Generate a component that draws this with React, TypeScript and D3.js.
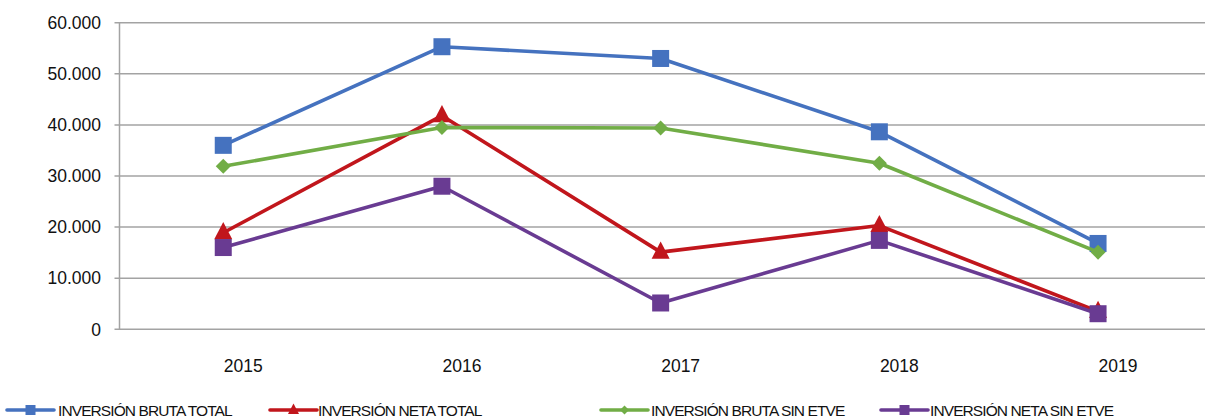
import React from "react";
import * as d3 from "d3";

const years = ["2015", "2016", "2017", "2018", "2019"];
const brutaTotal = [36000, 55300, 53000, 38650, 16800];
const netaTotal = [18900, 41800, 15100, 20300, 3500];
const brutaSinEtve = [31900, 39500, 39400, 32500, 15100];
const netaSinEtve = [16000, 28000, 5150, 17400, 3050];
const yTicks = [0, 10000, 20000, 30000, 40000, 50000, 60000];

const seriesNames = [
  "INVERSIÓN BRUTA TOTAL",
  "INVERSIÓN NETA TOTAL",
  "INVERSIÓN BRUTA SIN ETVE",
  "INVERSIÓN NETA SIN ETVE",
];
const seriesValues = [brutaTotal, netaTotal, brutaSinEtve, netaSinEtve];
const colors = ["#4572BF", "#C1161C", "#71AD46", "#693B92"];
const markers = ["square", "triangle", "diamond", "square"];

const W = 1205;
const H = 419;

function Marker({ type, x, y, size, color }: { type: string; x: number; y: number; size: number; color: string }) {
  if (type === "square") {
    return <rect x={x - size / 2} y={y - size / 2} width={size} height={size} fill={color} />;
  }
  if (type === "triangle") {
    const h = size * 0.95;
    const p = `${x},${y - h * 0.62} ${x + size / 2},${y + h * 0.38} ${x - size / 2},${y + h * 0.38}`;
    return <polygon points={p} fill={color} />;
  }
  const r = size / 2;
  return <polygon points={`${x},${y - r} ${x + r},${y} ${x},${y + r} ${x - r},${y}`} fill={color} />;
}

export default function App() {
  const x = d3.scaleBand<string>().domain(years).range([113.9, 1207.4]);
  const cx = (d: string) => (x(d) as number) + x.bandwidth() / 2;
  const y = d3.scaleLinear().domain([0, 60000]).range([329.3, 22.7]);
  const fmt = (v: number) => (v === 0 ? "0" : d3.format(",")(v).replace(/,/g, "."));
  const line = d3
    .line<number>()
    .x((_, i) => cx(years[i]))
    .y((v) => y(v));
  const font = "Liberation Sans, Arial, Helvetica, sans-serif";
  const legendX = [7, 270, 601, 881];
  const legendTextX = [58, 318, 651, 930];
  const markerSize = [17, 18, 15, 17];
  const legendMarkerSize = [10, 11, 9, 10];

  return (
    <svg width={W} height={H} style={{ position: "absolute", left: 0, top: 0 }} fontFamily={font}>
      <rect width={W} height={H} fill="#fff" />
      {yTicks.map((t) => (
        <g key={t}>
          <line x1={114.5} x2={W} y1={y(t)} y2={y(t)} stroke="#A3A3A3" strokeWidth={1.5} />
          <text x={101} y={y(t) + 6.2} textAnchor="end" fontSize={17.5} fill="#111">
            {fmt(t)}
          </text>
        </g>
      ))}
      <line x1={119.5} x2={119.5} y1={y(60000)} y2={y(0)} stroke="#A3A3A3" strokeWidth={1.5} />
      {years.map((yr) => (
        <text key={yr} x={cx(yr) + 20} y={372} textAnchor="middle" fontSize={17.5} fill="#111">
          {yr}
        </text>
      ))}
      {seriesValues.map((vals, si) => (
        <g key={si}>
          <path d={line(vals) || ""} fill="none" stroke={colors[si]} strokeWidth={3.6} strokeLinejoin="round" />
          {vals.map((v, i) => (
            <Marker key={i} type={markers[si]} x={cx(years[i])} y={y(v)} size={markerSize[si]} color={colors[si]} />
          ))}
        </g>
      ))}
      {seriesNames.map((name, si) => (
        <g key={name}>
          <line x1={legendX[si]} x2={legendX[si] + 47} y1={410} y2={410} stroke={colors[si]} strokeWidth={3.6} strokeLinecap="round" />
          <Marker type={markers[si]} x={legendX[si] + 23.5} y={410} size={legendMarkerSize[si]} color={colors[si]} />
          <text x={legendTextX[si]} y={416} fontSize={15.5} letterSpacing={-0.9} fill="#111">
            {name}
          </text>
        </g>
      ))}
    </svg>
  );
}
